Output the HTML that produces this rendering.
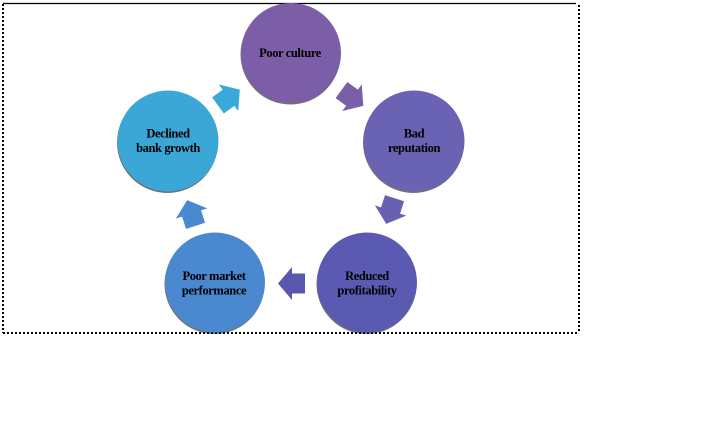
<!DOCTYPE html>
<html>
<head>
<meta charset="utf-8">
<style>
  html, body { margin: 0; padding: 0; background: #ffffff; }
  body { width: 726px; height: 421px; overflow: hidden; }
  svg { display: block; }
  text { font-family: "Liberation Serif", "Times New Roman", serif; font-weight: bold; font-size: 12.5px; fill: #000; letter-spacing: -0.4px; }
</style>
</head>
<body>
<svg width="726" height="421" viewBox="0 0 726 421" xmlns="http://www.w3.org/2000/svg">
  <defs>
    <path id="arr" d="M13.5,0 L-0.5,16.5 L-0.5,10 L-13.5,10 L-13.5,-10 L-0.5,-10 L-0.5,-16.5 Z"/>
  </defs>

  <!-- frame -->
  <line x1="3" y1="3.5" x2="576" y2="3.5" stroke="#000" stroke-width="1.2"/>
  <line x1="3" y1="4" x2="3" y2="333" stroke="#000" stroke-width="2" stroke-dasharray="2 2"/>
  <line x1="579" y1="5" x2="579" y2="333" stroke="#000" stroke-width="2" stroke-dasharray="2 2"/>
  <line x1="3" y1="333" x2="579" y2="333" stroke="#000" stroke-width="2" stroke-dasharray="2 2"/>

  <!-- circle shadows -->
  <g fill="#000" opacity="0.55">
    <circle cx="290.5" cy="54.5" r="50"/>
    <circle cx="167.5" cy="142.5" r="50.5"/>
    <circle cx="413.5" cy="142.5" r="50.5"/>
    <circle cx="214.5" cy="284" r="50"/>
    <circle cx="366.5" cy="284" r="50"/>
  </g>

  <!-- circles -->
  <circle cx="291" cy="53" r="50" fill="#7b5ea7"/>
  <circle cx="168" cy="141" r="50.5" fill="#3ba7d6"/>
  <circle cx="414" cy="141" r="50.5" fill="#6a62b3"/>
  <circle cx="215" cy="282.5" r="50" fill="#4a88d0"/>
  <circle cx="367" cy="282.5" r="50" fill="#5a5ab3"/>

  <!-- arrows -->
  <use href="#arr" transform="translate(228.9,97.5) rotate(-36)" fill="#3aa8d8"/>
  <use href="#arr" transform="translate(352.4,98) rotate(36)" fill="#7a5fa8"/>
  <use href="#arr" transform="translate(390.4,211) rotate(108)" fill="#6860b0"/>
  <use href="#arr" transform="translate(291.5,283.5) rotate(180)" fill="#5858b0"/>
  <use href="#arr" transform="translate(191.4,213) rotate(-108)" fill="#4a88d0"/>

  <!-- labels -->
  <text x="290" y="57" text-anchor="middle">Poor culture</text>

  <text x="168" y="137.5" text-anchor="middle">Declined</text>
  <text x="168" y="152" text-anchor="middle">bank growth</text>

  <text x="414" y="137.5" text-anchor="middle">Bad</text>
  <text x="414" y="152" text-anchor="middle">reputation</text>

  <text x="214" y="280" text-anchor="middle">Poor market</text>
  <text x="214" y="294.5" text-anchor="middle">performance</text>

  <text x="367" y="280" text-anchor="middle">Reduced</text>
  <text x="367" y="294.5" text-anchor="middle">profitability</text>
</svg>
</body>
</html>
